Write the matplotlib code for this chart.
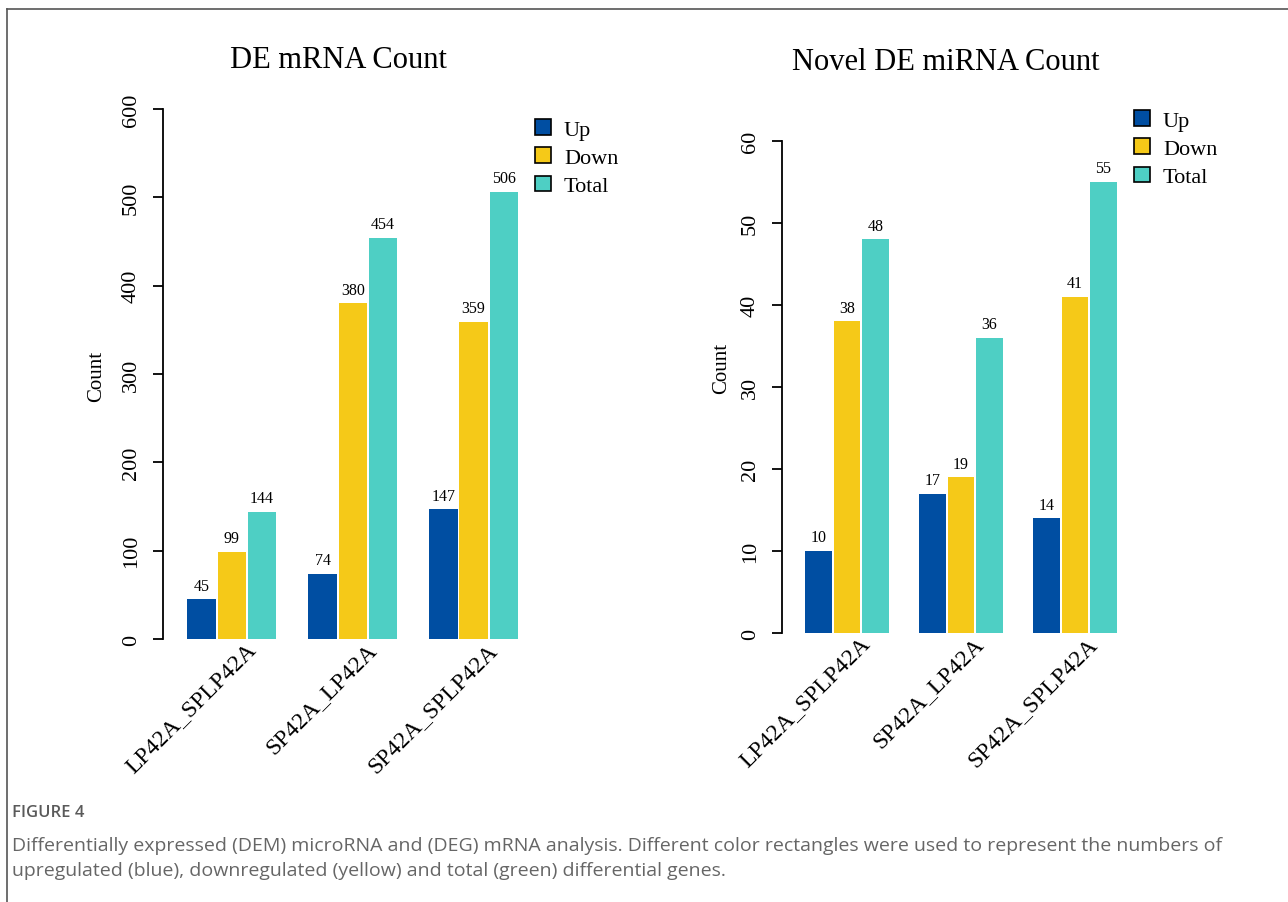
import matplotlib
matplotlib.use("Agg")
import matplotlib.pyplot as plt
from matplotlib.patches import Patch
from matplotlib.lines import Line2D
import numpy as np

# Data
groups = ["LP42A_SPLP42A", "SP42A_LP42A", "SP42A_SPLP42A"]
series = ["Up", "Down", "Total"]
mrna_up = [45, 74, 147]
mrna_down = [99, 380, 359]
mrna_total = [144, 454, 506]
mirna_up = [10, 17, 14]
mirna_down = [38, 19, 41]
mirna_total = [48, 36, 55]
colors = ["#004EA2", "#F5C918", "#4ECFC4"]

serif = "Liberation Serif"
W, H = 1288, 903
fig = plt.figure(figsize=(W / 100, H / 100), dpi=100)


def px(x, y):
    return x / W, 1 - y / H


def panel(rect, values, ymax, step, title, title_xy, leg_xy, ylab_x):
    ax = fig.add_axes(rect)
    x = np.arange(len(groups))
    width = 0.235
    pitch = 0.25
    for i, (vals, c) in enumerate(zip(values, colors)):
        bars = ax.bar(x + (i - 1) * pitch, vals, width, color=c, label=series[i])
        for b, v in zip(bars, vals):
            ax.annotate(str(v), (b.get_x() + b.get_width() / 2, v),
                        xytext=(0, 4), textcoords="offset points",
                        ha="center", va="bottom", fontsize=11.5, family=serif)
    ax.set_xlim(-0.57, 2.5)
    ax.set_ylim(0, ymax)
    for s in ["top", "right", "bottom"]:
        ax.spines[s].set_visible(False)
    ax.spines["left"].set_linewidth(1.3)
    ax.set_yticks(np.arange(0, ymax + 1, step))
    ax.tick_params(axis="y", length=7, width=1.3, labelsize=16, pad=9)
    for lab in ax.get_yticklabels():
        lab.set_rotation(90)
        lab.set_va("center")
        lab.set_family(serif)
    ax.set_xticks([])
    for xi, g in zip(x, groups):
        ax.annotate(g, (xi + 0.17, 0), xytext=(0, -5), textcoords="offset points",
                    rotation=45, ha="right", va="center", rotation_mode="anchor",
                    fontsize=17, family=serif, annotation_clip=False)
    fig.text(*px(*title_xy), title, ha="center", va="center", fontsize=22, family=serif)
    fig.text(*px(*ylab_x), "Count", rotation=90, ha="center", va="center",
             fontsize=15, family=serif)
    handles = [Patch(facecolor=c, edgecolor="black", linewidth=1.2) for c in colors]
    fig.legend(handles, series, loc="upper left", bbox_to_anchor=px(*leg_xy),
               frameon=False, prop={"family": serif, "size": 16},
               handlelength=0.7, handleheight=0.7, handletextpad=0.6,
               labelspacing=0.35, borderpad=0, borderaxespad=0)
    return ax


panel([163 / W, 1 - 640 / H, 371 / W, 530 / H],
      [mrna_up, mrna_down, mrna_total], 600, 100,
      "DE mRNA Count", (338, 60), (535, 120), (97, 376))
panel([782 / W, 1 - 634 / H, 350 / W, 492 / H],
      [mirna_up, mirna_down, mirna_total], 60, 10,
      "Novel DE miRNA Count", (946, 62), (1134, 111), (722, 368))

# Caption
cap_font = "Open Sans"
fig.text(*px(12, 813), "FIGURE 4", ha="left", va="center", fontsize=12,
         color="#5a5a5a", family=cap_font, fontweight="semibold")
fig.text(*px(12, 846),
         "Differentially expressed (DEM) microRNA and (DEG) mRNA analysis. Different color rectangles were used to represent the numbers of",
         ha="left", va="center", fontsize=14, color="#666666", family=cap_font)
fig.text(*px(12, 871),
         "upregulated (blue), downregulated (yellow) and total (green) differential genes.",
         ha="left", va="center", fontsize=14, color="#666666", family=cap_font)

# Frame lines (top and left)
fig.add_artist(Line2D([7 / W, 1], [1 - 10 / H, 1 - 10 / H], color="#555555", lw=1.2))
fig.add_artist(Line2D([7 / W, 7 / W], [0, 1 - 10 / H], color="#555555", lw=1.2))

fig.savefig("out.png", dpi=100)
